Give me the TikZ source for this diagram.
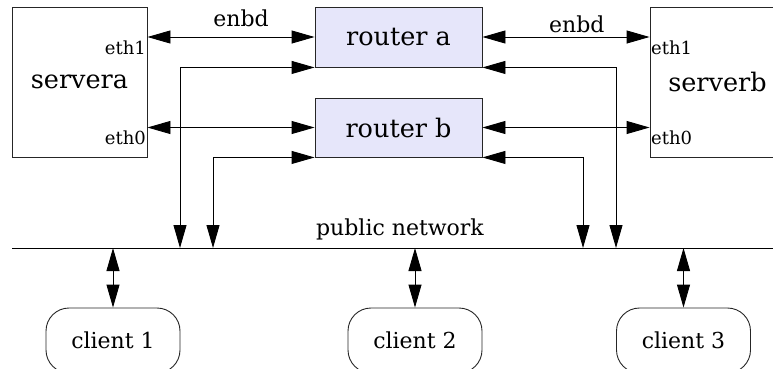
\documentclass[tikz,border=0pt]{standalone}
\usepackage{fontspec}
\setmainfont{DejaVu Serif}
\usetikzlibrary{arrows.meta,calc}
\definecolor{routerfill}{RGB}{230,230,250}
\tikzset{
  box/.style={draw=black!85, line width=0.9pt, inner sep=0pt},
  serverbox/.style={box, minimum width=135pt, minimum height=150pt, font=\fontsize{25.5}{30}\selectfont},
  routerbox/.style={box, fill=routerfill, minimum width=167pt, font=\fontsize{25.5}{30}\selectfont},
  clientbox/.style={box, rounded corners=23pt, minimum width=134pt, minimum height=65pt, font=\fontsize{22}{26}\selectfont},
  port/.style={inner sep=0pt, font=\fontsize{18}{21}\selectfont},
  lbl/.style={inner sep=0pt, font=\fontsize{22}{26}\selectfont},
  link/.style={line width=0.9pt, {Triangle[length=23pt,width=13pt]}-{Triangle[length=23pt,width=13pt]}},
  wire/.style={line width=0.9pt},
}
\begin{document}
\begin{tikzpicture}[x=1pt,y=-1pt]
\useasboundingbox (0,0) rectangle (773,368);
\clip (0,0) rectangle (773,368);

% servers and routers
\node[serverbox] (sa) at (79.5,82) {servera};
\node[serverbox] (sb) at (717.5,82) {serverb};
\node[routerbox, minimum height=60pt] (ra) at (398.5,37) {router a};
\node[routerbox, minimum height=59pt] (rb) at (398.5,127.5) {router b};

% interface names
\node[port, anchor=east] (sa1) at (146,48) {eth1};
\node[port, anchor=east] (sa0) at (146,138) {eth0};
\node[port, anchor=west] (sb1) at (651,48) {eth1};
\node[port, anchor=west] (sb0) at (651,138) {eth0};

% public network bus
\coordinate (netL) at (12,248);
\coordinate (netR) at (790,248);
\draw[wire] (netL) -- (netR);
\node[lbl, anchor=south] (pn) at (400,240) {public network};

% clients
\node[clientbox] (c1) at (113,340.5) {client 1};
\node[clientbox] (c2) at (415,340.5) {client 2};
\node[clientbox] (c3) at (683.5,340.5) {client 3};

% server to router links
\draw[link] (sa.east |- ra.west) -- (ra.west)
  node[lbl, pos=0.56, anchor=south, yshift=10pt] {enbd};
\draw[link] (sa.east |- rb.west) -- (rb.west);
\draw[link] (ra.east) -- (sb.west |- ra.east)
  node[lbl, pos=0.565, anchor=south, yshift=4pt] {enbd};
\draw[link] (rb.east) -- (sb.west |- rb.east);

% routers to the public network
\coordinate (na1) at (180,248);
\coordinate (nb1) at (213,248);
\coordinate (nb2) at (583,248);
\coordinate (na2) at (616,248);
\draw[link] (na1) |- (ra.south west);
\draw[link] (nb1) |- (rb.south west);
\draw[link] (nb2) |- (rb.south east);
\draw[link] (na2) |- (ra.south east);

% clients to the public network
\draw[link] (c1.north |- netL) -- (c1.north);
\draw[link] (c2.north |- netL) -- (c2.north);
\draw[link] (c3.north |- netL) -- (c3.north);
\end{tikzpicture}
\end{document}
